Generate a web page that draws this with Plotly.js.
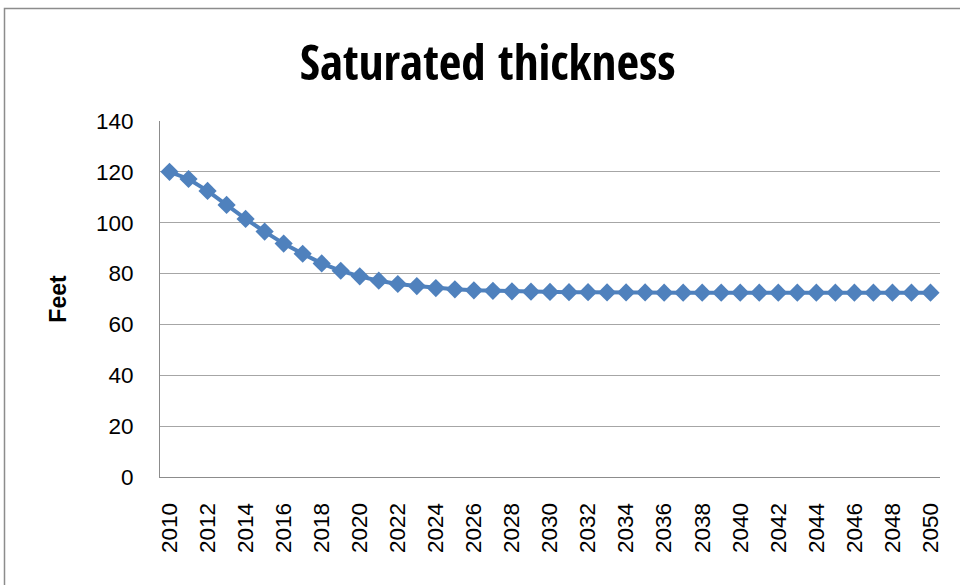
<!DOCTYPE html>
<html>
<head>
<meta charset="utf-8">
<script src="https://cdn.plot.ly/plotly-3.0.1.min.js"></script>
<style>html,body{margin:0;padding:0;background:#fff}#chart{width:960px;height:585px}</style>
</head>
<body>
<div id="chart"></div>
<script>
const years = ["2010","2011","2012","2013","2014","2015","2016","2017","2018","2019","2020","2021","2022","2023","2024","2025","2026","2027","2028","2029","2030","2031","2032","2033","2034","2035","2036","2037","2038","2039","2040","2041","2042","2043","2044","2045","2046","2047","2048","2049","2050"];
const feet = [120,117.2,112.5,107,101.5,96.5,91.8,87.8,84,81.1,78.9,77.2,75.9,75.1,74.3,73.8,73.4,73.2,73.0,72.9,72.8,72.7,72.7,72.6,72.6,72.6,72.5,72.5,72.5,72.5,72.5,72.5,72.5,72.5,72.5,72.5,72.5,72.5,72.5,72.5,72.5];
const tickYears = years.filter((y, i) => i % 2 === 0);

const trace = {
  x: years, y: feet, type: 'scatter', mode: 'lines+markers',
  line: {color: '#4F81BD', width: 4},
  marker: {symbol: 'diamond', size: 14, color: '#4F81BD'},
  hoverinfo: 'x+y'
};

const layout = {
  width: 960, height: 585,
  margin: {l: 160, r: 20, t: 121, b: 108},
  paper_bgcolor: '#fff', plot_bgcolor: '#fff',
  showlegend: false,
  title: {text: '<b>Saturated thickness</b>', x: 0.508, xanchor: 'center', y: 0.893, yanchor: 'middle',
          font: {family: 'Liberation Sans Narrow, Open Sans Condensed, sans-serif', size: 49, color: '#000'}},
  xaxis: {
    type: 'category', tickvals: tickYears, ticktext: tickYears, tickangle: -90,
    showgrid: false, showline: true, linecolor: '#8c8c8c', linewidth: 1,
    ticks: '', ticklabelstandoff: 16,
    tickfont: {family: 'Liberation Sans, Arial, sans-serif', size: 22.5, color: '#000'},
    range: [-0.5, 40.5], zeroline: false
  },
  yaxis: {
    range: [0, 140], dtick: 20, tick0: 0,
    showgrid: true, gridcolor: '#a6a6a6', gridwidth: 1,
    showline: true, linecolor: '#8c8c8c', linewidth: 1,
    zeroline: false, ticks: '', ticklabelstandoff: 21,
    tickfont: {family: 'Liberation Sans, Arial, sans-serif', size: 22.5, color: '#000'},
    title: {text: '<b>Feet</b>', standoff: 22, font: {family: 'Liberation Sans, Arial, sans-serif', size: 23, color: '#000'}}
  },
  shapes: [{
    type: 'rect', xref: 'paper', yref: 'paper',
    x0: (4.5 - 160) / 780, x1: 1.2, y0: -0.5, y1: (477 - 8.5) / 356,
    line: {color: '#8c8c8c', width: 1.5}, fillcolor: 'rgba(0,0,0,0)', layer: 'below'
  }]
};

Plotly.newPlot('chart', [trace], layout, {displayModeBar: false, staticPlot: true});
</script>
</body>
</html>
